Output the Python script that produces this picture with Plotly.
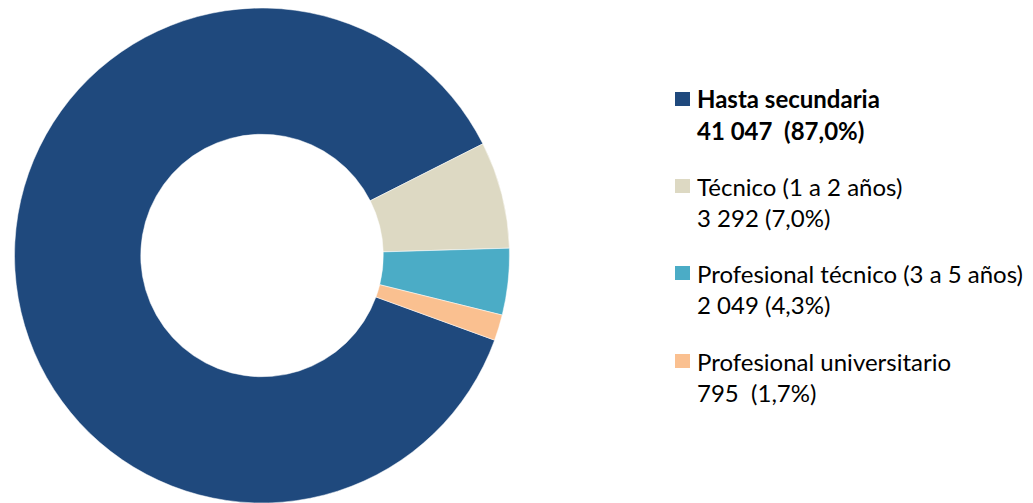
import plotly.graph_objects as go

categories = ["Hasta secundaria", "Técnico (1 a 2 años)", "Profesional técnico (3 a 5 años)", "Profesional universitario"]
values = [41047, 3292, 2049, 795]
value_labels = ["41 047  (87,0%)", "3 292 (7,0%)", "2 049 (4,3%)", "795  (1,7%)"]
colors = ["#1F497D", "#DDD9C3", "#4BACC6", "#FAC090"]

W, H = 1033, 503
OFF = 8  # page body margin compensation

def px_x(x):
    return (x - OFF) / W

def px_y(y):
    return 1 - (y - OFF) / H

fig = go.Figure()
fig.add_trace(go.Pie(
    labels=categories,
    values=values,
    hole=0.49,
    sort=False,
    direction="clockwise",
    rotation=110,
    marker=dict(colors=colors, line=dict(color="white", width=0.5)),
    textinfo="none",
    hoverinfo="label+value+percent",
    showlegend=False,
    domain=dict(x=[px_x(13), px_x(511)], y=[(H - 495) / H, 1]),
))

font_family = "Lato, 'Noto Sans', sans-serif"
item_y = [99, 186, 273, 361]
line_gap = 31
for i, (cat, vl, col) in enumerate(zip(categories, value_labels, colors)):
    y0 = item_y[i]
    bold = i == 0
    t1 = f"<b>{cat}</b>" if bold else cat
    t2 = f"<b>{vl}</b>" if bold else vl
    for txt, yy in ((t1, y0), (t2, y0 + line_gap)):
        fig.add_annotation(
            x=px_x(697), y=px_y(yy), xref="paper", yref="paper",
            text=txt, showarrow=False, xanchor="left", yanchor="middle",
            xshift=-2,
            font=dict(family=font_family, size=24, color="#000000"),
        )
    fig.add_shape(
        type="rect", xref="paper", yref="paper",
        x0=px_x(675), x1=px_x(690), y0=px_y(y0 + 7), y1=px_y(y0 - 7),
        fillcolor=col, line=dict(width=0),
    )

fig.update_layout(
    width=W, height=H,
    margin=dict(l=0, r=0, t=0, b=0),
    paper_bgcolor="white", plot_bgcolor="white",
)

fig.write_html("out.html")
